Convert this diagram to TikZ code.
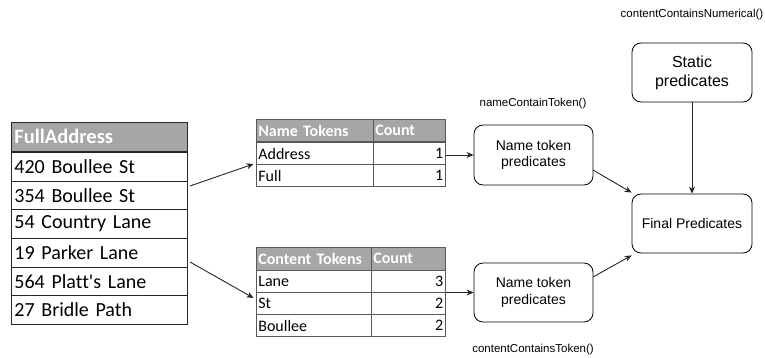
\documentclass[tikz,border=0pt]{standalone}
\usepackage{fontspec}
\setmainfont{Liberation Sans}
\newfontfamily\calib[Ligatures=NoCommon]{Carlito}
\usetikzlibrary{arrows.meta,positioning}
\definecolor{hdr}{HTML}{A6A6A6}
\definecolor{lnc}{HTML}{262626}
\definecolor{grd}{HTML}{595959}
\tikzset{
  cellL/.style={draw=lnc, line width=0.9pt, anchor=north west, inner xsep=3pt, inner ysep=0pt,
     text width=170pt, minimum height=28.67pt, align=left, font=\calib\fontsize{20}{21}\selectfont},
  hdrL/.style={cellL, fill=hdr, text=white, font=\calib\bfseries\fontsize{20.5}{21}\selectfont},
  cellT/.style={draw=grd, line width=0.7pt, anchor=north west, inner xsep=2pt, inner ysep=0pt,
     minimum height=22.5pt, font=\calib\fontsize{16}{17}\selectfont},
  hdrT/.style={cellT, fill=hdr, text=white, font=\calib\bfseries\fontsize{16}{17}\selectfont},
  pbox/.style={draw=black, line width=0.8pt, rounded corners=9pt, align=center, inner sep=0pt},
  arr/.style={draw=lnc, line width=0.9pt, -{Stealth[length=7pt,width=6pt]}},
  lbl/.style={font=\fontsize{11.5}{13}\selectfont, text=black}
}
\begin{document}
\begin{tikzpicture}[x=1pt,y=-1pt]
\useasboundingbox (0,0) rectangle (765,358);
% left table
\node[hdrL] (fa) at (11,122) {FullAddress};
\node[cellL] (r1) at (11,152) {420 Boullee St};
\node[cellL] (r2) at (11,180.67) {354 Boullee St};
\node[cellL] (r3) at (11,209.33) {54 Country Lane};
\node[cellL] (r4) at (11,238) {19 Parker Lane};
\node[cellL] (r5) at (11,266.67) {564 Platt's Lane};
\node[cellL] (r6) at (11,295.33) {27 Bridle Path};
% name tokens table
\node[hdrT, text width=113pt, align=left] (nth) at (256,119) {Name Tokens};
\node[hdrT, text width=68pt, align=left] (nch) at (373,119) {Count};
\node[cellT, text width=113pt, align=left] (na1) at (256,142) {Address};
\node[cellT, text width=68pt, align=right] (nc1) at (373,142) {1};
\node[cellT, text width=113pt, align=left, minimum height=22pt] (na2) at (256,164.5) {Full};
\node[cellT, text width=68pt, align=right, minimum height=22pt] (nc2) at (373,164.5) {1};
% content tokens table
\node[hdrT, text width=111pt, align=left] (cth) at (256,247) {Content Tokens};
\node[hdrT, text width=70pt, align=left] (cch) at (371,247) {Count};
\node[cellT, text width=111pt, align=left, minimum height=22.3pt] (ca1) at (256,269.5) {Lane};
\node[cellT, text width=70pt, align=right, minimum height=22.3pt] (cc1) at (371,269.5) {3};
\node[cellT, text width=111pt, align=left, minimum height=22.3pt] (ca2) at (256,291.8) {St};
\node[cellT, text width=70pt, align=right, minimum height=22.3pt] (cc2) at (371,291.8) {2};
\node[cellT, text width=111pt, align=left, minimum height=22.3pt] (ca3) at (256,314.1) {Boullee};
\node[cellT, text width=70pt, align=right, minimum height=22.3pt] (cc3) at (371,314.1) {2};
% predicate boxes
\node[pbox, minimum width=120pt, minimum height=59pt, font=\fontsize{16}{19}\selectfont] (sp) at (692,72.5) {Static\\predicates};
\node[pbox, minimum width=119pt, minimum height=60pt, font=\fontsize{14}{16.5}\selectfont] (np1) at (533.5,155) {Name token\\predicates};
\node[pbox, minimum width=120pt, minimum height=59pt, font=\fontsize{14}{16}\selectfont] (fp) at (692,223.5) {Final Predicates};
\node[pbox, minimum width=119pt, minimum height=59pt, font=\fontsize{14}{16.5}\selectfont] (np2) at (533.5,292.5) {Name token\\predicates};
% labels
\node[lbl] (l1) at (692,15) {contentContainsNumerical()};
\node[lbl] (l2) at (533,104) {nameContainToken()};
\node[lbl] (l3) at (533,350) {contentContainsToken()};
% connectors
\coordinate (s1) at (190,186);
\coordinate (e1) at (253.5,164);
\coordinate (s2) at (190,262);
\coordinate (e2) at (253.5,298);
\coordinate (a1) at (593,170);
\coordinate (a2) at (593,277);
\draw[arr] (s1) -- (e1);
\draw[arr] (s2) -- (e2);
\draw[arr] (nc1.east |- np1.west) -- (np1.west);
\draw[arr] (cc1.east |- np2.west) -- (np2.west);
\draw[arr] (a1) -- ([yshift=1pt]fp.north west);
\draw[arr] (a2) -- ([yshift=-2pt]fp.south west);
\draw[arr] (sp.south) -- (fp.north);
\end{tikzpicture}
\end{document}
